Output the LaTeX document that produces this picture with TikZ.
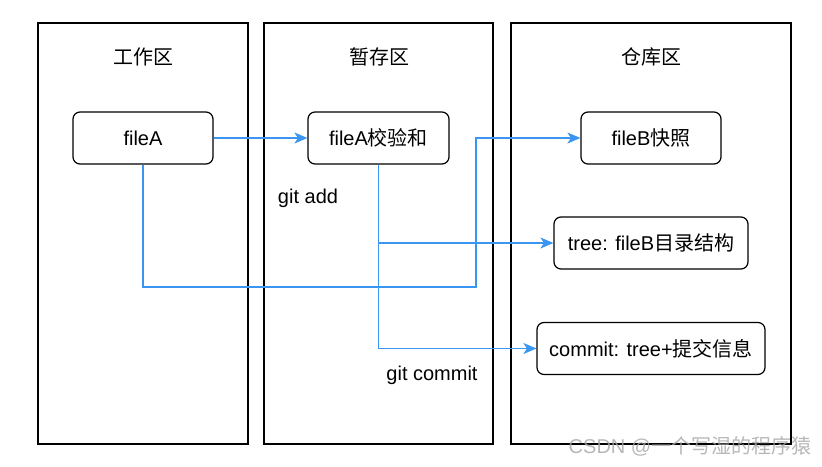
\documentclass[tikz,border=0pt]{standalone}
\usepackage{fontspec}
\setmainfont{Liberation Sans}
\newfontfamily\cjk{Noto Sans CJK SC}
\usepackage{xcolor}
\usetikzlibrary{arrows, arrows.meta}
\definecolor{flowblue}{RGB}{58,150,240}
\tikzset{
  panel/.style={draw=black, line width=1.4pt, minimum width=#1, minimum height=421pt, inner sep=0pt},
  item/.style={draw=black, line width=1.2pt, rounded corners=7pt, minimum height=52pt, inner sep=0pt},
  flow/.style={draw=flowblue, line width=1.3pt, -{Stealth[length=13pt,width=11pt,inset=3.5pt]}}
}
\begin{document}
\begin{tikzpicture}[x=1pt, y=-1pt, font=\fontsize{20}{24}\selectfont]
				\useasboundingbox[fill=white] (0,0) rectangle (822,466);
				\node[panel=210pt](work) at (143,233.5){};
				\node[panel=229pt](stage) at (378.5,233.5){};
				\node[panel=280pt](repo) at (651,233.5){};
				\node(worktitle) at (143,57){\cjk 工作区};
				\node(stagetitle) at (379,57){\cjk 暂存区};
				\node(repotitle) at (651,57){\cjk 仓库区};
				\node[item, minimum width=140pt](fileA) at (143,138){fileA};
				\node[item, minimum width=141pt](sum) at (378.5,138){fileA{\cjk 校验和}};
				\node[item, minimum width=140pt](snap) at (651,138){fileB{\cjk 快照}};
				\node[item, minimum width=194pt](tree) at (651,243){tree: fileB{\cjk 目录结构}};
				\node[item, minimum width=228pt](commit) at (651,348.5){commit: tree+{\cjk 提交信息}};
				\node(addlabel) at (308,198){git add};
				\node(commitlabel) at (432,375){git commit};
				\node[text=gray!70, opacity=0.8](mark) at (690,446){CSDN @{\cjk 一个写湿的程序猿}};
				\coordinate(bend) at (476,287);
				\coordinate(branch) at (sum.south |- tree.west);
				\draw[flow] (fileA.east) -- (sum.west);
				\draw[flow] (fileA.south) |- (bend) |- (snap.west);
				\draw[flow] (sum.south) |- (commit.west);
				\draw[flow] (branch) -- (tree.west);
			\end{tikzpicture}
\end{document}
